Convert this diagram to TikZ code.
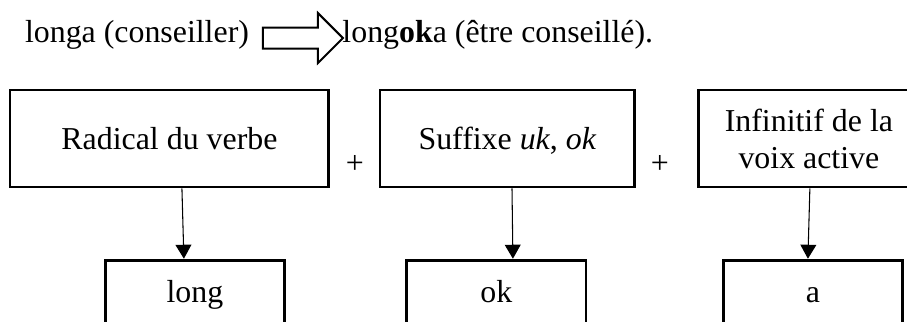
\documentclass[tikz,border=0pt]{standalone}
\usepackage{fontspec}
\setmainfont{Liberation Serif}
\usetikzlibrary{shapes.arrows,arrows.meta,positioning}

\begin{document}
\begin{tikzpicture}[
    font=\fontsize{12}{13.8}\selectfont,
    term/.style={draw, line width=1.1pt, minimum height=1.283cm, align=center, inner sep=0pt, text depth=0pt},
    piece/.style={draw, line width=1.1pt, minimum height=0.966cm, minimum width=2.37cm, text height=0.68em, text depth=0.22em, inner sep=0pt},
    phrase/.style={anchor=base west, inner sep=0pt},
    plus/.style={inner sep=0pt},
    bigarrow/.style={single arrow, draw, line width=0.75pt, inner sep=0pt, text height=0.251cm, text depth=0pt, minimum height=1.058cm, single arrow head extend=0.192cm, single arrow tip angle=90},
    arrow/.style={-{Triangle[length=1.85mm, width=2.1mm]}, line width=0.4pt}
]
\useasboundingbox (0,0) rectangle (12,-4.26);
\clip (0,0) rectangle (12,-4.26);

% Derivation line
\node[phrase] (src) at (0.324,-0.556) {longa (conseiller)};
\node[bigarrow, anchor=tail] (big) at (3.466,-0.503) {};
\node[phrase] (dst) at (4.524,-0.556) {long\textbf{ok}a (être conseillé).};

% Components
\node[term, minimum width=4.22cm] (r1) at (2.242,-1.832) {Radical du verbe};
\node[term, minimum width=3.373cm] (r2) at (6.714,-1.832) {Suffixe \textit{uk}, \textit{ok}};
\node[term, minimum width=2.91cm] (r3) at (10.702,-1.832) {Infinitif de la\\voix active};

\node[plus] (p1) at (4.696,-2.170) {+};
\node[plus] (p2) at (8.731,-2.170) {+};

% Forms
\node[piece, below=9.3mm of r1, xshift=0.337cm] (l1) {long};
\node[piece, below=9.3mm of r2, xshift=-0.146cm] (l2) {ok};
\node[piece, below=9.3mm of r3, xshift=0.053cm] (l3) {a};

\draw[arrow] ([xshift=0.165cm]r1.south) -- ([xshift=-0.146cm]l1.north);
\draw[arrow] ([xshift=0.060cm]r2.south) -- ([xshift=0.218cm]l2.north);
\draw[arrow] ([xshift=0.013cm]r3.south) -- ([xshift=-0.066cm]l3.north);

\end{tikzpicture}
\end{document}
